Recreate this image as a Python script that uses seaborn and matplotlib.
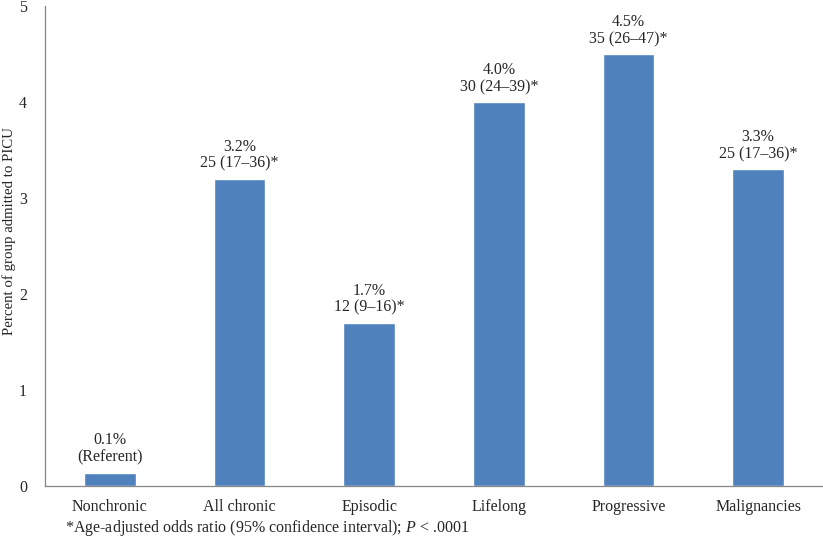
import pandas as pd
import numpy as np
import seaborn as sns
import matplotlib.pyplot as plt

# data
groups = ['Nonchronic', 'All chronic', 'Episodic', 'Lifelong', 'Progressive', 'Malignancies']
percent = [0.14, 3.2, 1.7, 4.0, 4.5, 3.3]
pct_labels = ['0.1%', '3.2%', '1.7%', '4.0%', '4.5%', '3.3%']
or_labels = ['(Referent)', '25 (17\u201336)*', '12 (9\u201316)*', '30 (24\u201339)*',
             '35 (26\u201347)*', '25 (17\u201336)*']

df = pd.DataFrame({'group': groups, 'percent': percent})

sns.set_style('white')
plt.rcParams['font.family'] = ['Liberation Serif', 'DejaVu Serif']
plt.rcParams['mathtext.fontset'] = 'custom'
plt.rcParams['mathtext.rm'] = 'Liberation Serif'
plt.rcParams['mathtext.it'] = 'Liberation Serif:italic'
fs = 11.5

fig = plt.figure(figsize=(8.23, 5.42), dpi=100)
ax = fig.add_axes([0.0547, 0.1033, 0.9453, 0.8857])

sns.barplot(data=df, x='group', y='percent', color='#4F81BD', saturation=1,
            width=0.4, ax=ax)

for i, (v, a, b) in enumerate(zip(percent, pct_labels, or_labels)):
    ax.annotate(a + '\n' + b, (i, v), xytext=(0, 5), textcoords='offset points',
                ha='center', va='bottom', fontsize=fs, linespacing=1.1)

ax.set_ylim(0, 5)
ax.set_xlim(-0.5, 5.5)
ax.set_yticks([0, 1, 2, 3, 4, 5])
ax.tick_params(axis='both', length=0, labelsize=fs)
ax.tick_params(axis='y', pad=13)
ax.tick_params(axis='x', pad=9)
ax.set_xlabel('')
ax.set_ylabel('Percent of group admitted to PICU', fontsize=10.7)
ax.yaxis.set_label_coords(-0.037, 0.531)

for s in ['top', 'right']:
    ax.spines[s].set_visible(False)
for s in ['left', 'bottom']:
    ax.spines[s].set_color('#868686')
    ax.spines[s].set_linewidth(0.9)

fig.text(0.079, 0.008, '*Age-adjusted odds ratio (95% confidence interval); $P$ < .0001',
         fontsize=fs, ha='left', va='bottom')

plt.savefig('out.png', dpi=100)
